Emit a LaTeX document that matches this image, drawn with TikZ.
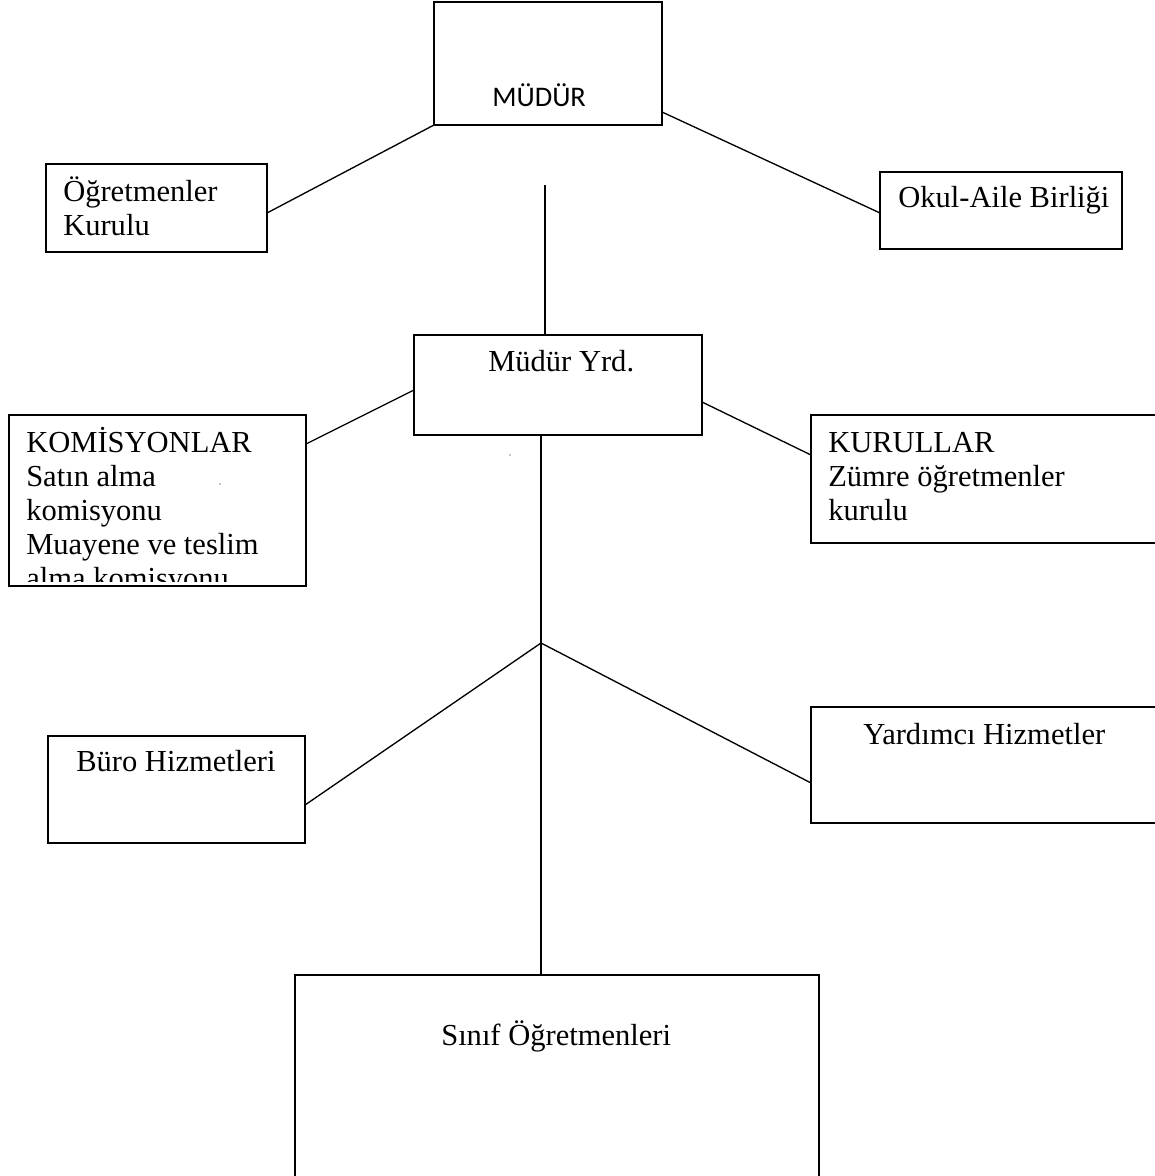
\documentclass[tikz,border=0pt]{standalone}
\usepackage{fontspec}
\setmainfont{Liberation Serif}
\newfontfamily\calib{Carlito}
\usetikzlibrary{calc}
\begin{document}
\begin{tikzpicture}[x=0.75pt,y=-0.75pt,
  box/.style 2 args={draw,line width=1.3pt,rectangle,inner sep=0pt,outer sep=0pt,
     minimum width=#1*0.75pt,minimum height=#2*0.75pt},
  conn/.style={line width=1pt},
  lbl/.style={anchor=base west,inner sep=0pt,font=\fontsize{22.9}{25.5}\selectfont},
  lblc/.style={anchor=base west,inner sep=0pt,font=\calib\fontsize{21.3}{25}\selectfont}]
\useasboundingbox (0,0) rectangle (1154,1176);
% boxes
\node[box={228}{123}] (mudur) at (548,63.5) {};
\node[box={221}{88}]  (ogr)   at (156.5,208) {};
\node[box={242}{77}]  (okul)  at (1001,210.5) {};
\node[box={288}{100}] (yrd)   at (558,385) {};
\node[box={297}{171}] (kom)   at (157.5,500.5) {};
\node[box={359}{128}] (kur)   at (990.5,479) {};
\node[box={257}{107}] (buro)  at (176.5,789.5) {};
\node[box={359}{116}] (yard)  at (990.5,765) {};
\node[box={524}{217}] (sinif) at (557,1083.5) {};
% texts
\node[lblc] (tmudur) at (492,107) {MÜDÜR};
\node[lbl] (togr1) at (63,202) {Öğretmenler};
\node[lbl] (togr2) at (63,236) {Kurulu};
\node[lbl] (tokul) at (898,208) {Okul-Aile Birliği};
\node[lbl] (tyrd) at (488,372) {Müdür Yrd.};
\begin{scope}
  \clip (9,415) rectangle (306,581);
  \node[lbl] (tkom1) at (26,452) {KOMİSYONLAR};
  \node[lbl] (tkom2) at (26,486.2) {Satın alma};
  \node[lbl] (tkom3) at (26,520.4) {komisyonu};
  \node[lbl] (tkom4) at (26,554.6) {Muayene ve teslim};
  \node[lbl] (tkom5) at (26,588.8) {alma komisyonu};
\end{scope}
\node[lbl] (tkur1) at (828,452) {KURULLAR};
\node[lbl] (tkur2) at (828,486.5) {Zümre öğretmenler};
\node[lbl] (tkur3) at (828,520.5) {kurulu};
\node[lbl] (tburo) at (76,771) {Büro Hizmetleri};
\node[lbl] (tyard) at (863,744) {Yardımcı Hizmetler};
\node[lbl] (tsinif) at (441,1045) {Sınıf Öğretmenleri};
% connectors
\coordinate (v1) at (545,185);
\coordinate (j) at (541,643);
\draw[conn] (mudur.south west) -- ($(ogr.north east)+(0,49)$);
\draw[conn] ($(mudur.south east)+(0,-13)$) -- ($(okul.north west)+(0,41)$);
\draw[conn] (v1) -- (v1 |- yrd.north);
\draw[conn] ($(yrd.north west)+(0,55)$) -- ($(kom.north east)+(0,29)$);
\draw[conn] ($(yrd.north east)+(0,67)$) -- ($(kur.north west)+(0,40)$);
\draw[conn] (j |- yrd.south) -- (j |- sinif.north);
\draw[conn] (j) -- ($(buro.north east)+(0,69)$);
\draw[conn] (j) -- ($(yard.north west)+(0,76)$);
% specks
\fill (510,455) circle (0.6);
\fill (220,484) circle (0.6);
\end{tikzpicture}
\end{document}
